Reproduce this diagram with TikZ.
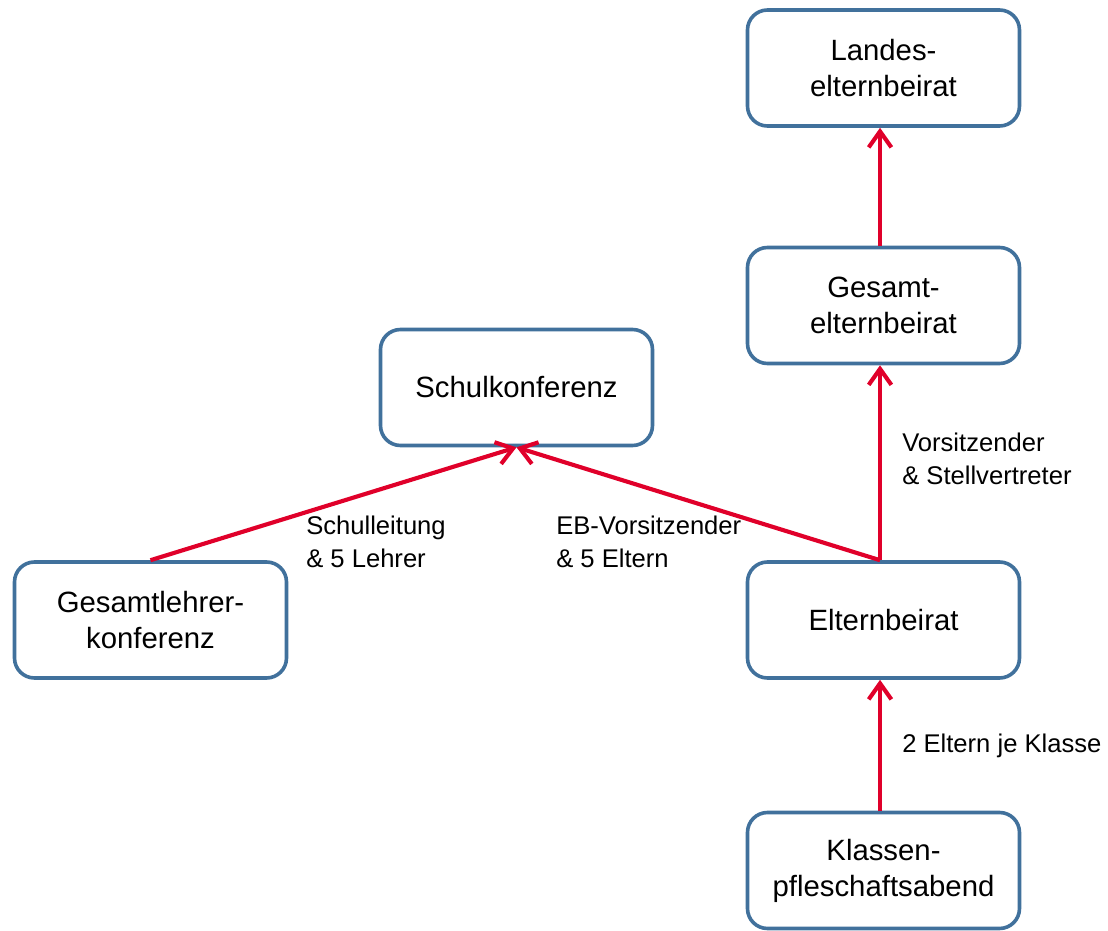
\documentclass[tikz,border=0pt]{standalone}
\usepackage{fontspec}
\setmainfont{Liberation Sans}
\usetikzlibrary{arrows.meta}
\definecolor{boxblue}{HTML}{41719C}
\definecolor{arrred}{HTML}{E0002A}
\begin{document}
\begin{tikzpicture}[x=0.75pt,y=-0.75pt,
  orgbox/.style={draw=boxblue, line width=2.7pt, rounded corners=15pt, fill=white,
    minimum width=204pt, minimum height=87pt, align=center,
    font=\fontsize{22}{27}\selectfont},
  link/.style={draw=arrred, line width=3.1pt, -{Straight Barb[length=12pt,width=17pt,line width=3.1pt]}},
  lbl/.style={anchor=north west, align=left, inner sep=0pt, font=\fontsize{19.2}{24.5}\selectfont}]
\useasboundingbox (0,0) rectangle (1108,931);
\node[orgbox] (landes) at (883.5,68) {Landes-\\elternbeirat};
\node[orgbox] (gesamt) at (883.5,305.5) {Gesamt-\\elternbeirat};
\node[orgbox] (schul) at (516.5,387.5) {Schulkonferenz};
\node[orgbox] (glk) at (150.5,620) {Gesamtlehrer-\\konferenz};
\node[orgbox] (eltern) at (883.5,620) {Elternbeirat};
\node[orgbox] (klassen) at (883.5,870.5) {Klassen-\\pfleschaftsabend};
\coordinate (eltop) at ([xshift=-2.6pt]eltern.north);
\draw[link] (glk.north) -- (schul.south);
\draw[link] (eltop) -- (schul.south);
\draw[link] (eltop) -- ([xshift=-2.6pt]gesamt.south);
\draw[link] ([xshift=-2.6pt]gesamt.north) -- ([xshift=-2.6pt]landes.south);
\draw[link] ([xshift=-2.6pt]klassen.north) -- ([xshift=-2.6pt]eltern.south);
\node[lbl] (l1) at (306,516) {Schulleitung\\\& 5 Lehrer};
\node[lbl] (l2) at (556,516) {EB-Vorsitzender\\\& 5 Eltern};
\node[lbl] (l3) at (902,433) {Vorsitzender\\\& Stellvertreter};
\node[lbl] (l4) at (902,734) {2 Eltern je Klasse};
\end{tikzpicture}
\end{document}
